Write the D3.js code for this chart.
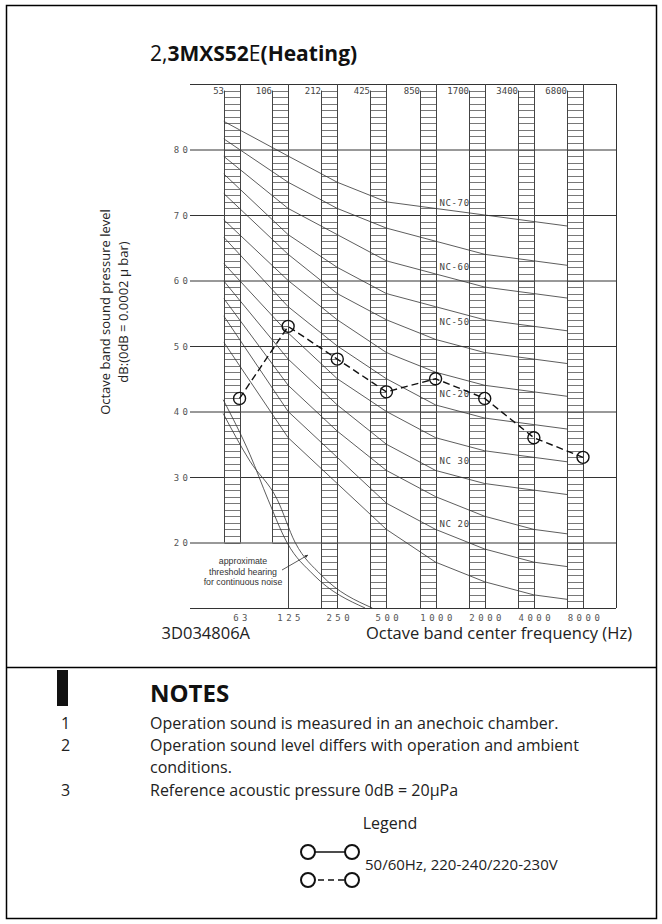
<!DOCTYPE html>
<html>
<head>
<meta charset="utf-8">
<script src="https://cdn.jsdelivr.net/npm/d3@7/dist/d3.min.js"></script>
<style>
  body { margin: 0; background: #fff; }
  svg { display: block; }
</style>
</head>
<body>
<svg id="chart" width="662" height="924"></svg>
<script>
// octave band centre frequencies (Hz) and labels
var bands = [63, 125, 250, 500, 1000, 2000, 4000, 8000];
var bandLabels = ["63", "125", "250", "500", "1000", "2000", "4000", "8000"];
var edgeLabels = ["53", "106", "212", "425", "850", "1700", "3400", "6800"];
var yTicks = [20, 30, 40, 50, 60, 70, 80];

// measured sound level, heating (dB)
var soundLevel = [42, 53, 48, 43, 45, 42, 36, 33];

// NC curves (dB per band)
var nc70 = [83, 79, 75, 72, 71, 70, 69, 68];
var nc65 = [80, 75, 71, 68, 66, 64, 63, 62];
var nc60 = [77, 71, 67, 63, 61, 59, 58, 57];
var nc55 = [74, 67, 62, 58, 56, 54, 53, 52];
var nc50 = [71, 64, 58, 54, 51, 49, 48, 47];
var nc45 = [67, 60, 54, 49, 46, 44, 43, 42];
var nc40 = [64, 56, 50, 45, 41, 39, 38, 37];
var nc35 = [60, 52, 45, 40, 36, 34, 33, 32];
var nc30 = [57, 48, 41, 35, 31, 29, 28, 27];
var nc25 = [54, 44, 37, 31, 27, 24, 22, 21];
var nc20 = [51, 40, 33, 26, 22, 19, 17, 16];
var nc15 = [47, 36, 29, 22, 17, 14, 12, 11];
var ncCurves = [nc70, nc65, nc60, nc55, nc50, nc45, nc40, nc35, nc30, nc25, nc20, nc15];

// curve labels as printed on the chart, and the level they sit at
var ncLabels = ["NC-70", "NC-60", "NC-50", "NC-20", "NC 30", "NC 20"];
var ncLabelLevels = [71.9, 62.0, 53.6, 42.6, 32.4, 22.8];

// approximate threshold of hearing [Hz, dB]
var thresholdA = [[50, 41.8], [73, 33.4], [94, 26.6], [123, 20], [180, 15], [370, 10]];
var thresholdB = [[50, 39.7], [73, 32.4], [107, 26.6], [138, 20], [200, 15], [410, 10]];

var noteNums = ["1", "2", "", "3"];
var noteLines = [
  "Operation sound is measured in an anechoic chamber.",
  "Operation sound level differs with operation and ambient",
  "conditions.",
  "Reference acoustic pressure 0dB = 20\u03bcPa"
];

var svg = d3.select("#chart");
var ink = "#333";
var barW = 16;
var cad = "DejaVu Sans Mono";
var sans = "Open Sans";

var x = d3.scaleLog().base(2).domain([62.5, 8000]).range([239, 583]);
var y = d3.scaleLinear().domain([10, 90]).range([608, 84]);
var plotL = 190, plotR = 616;

// page frame
svg.append("rect")
  .attr("x", 6.5).attr("y", 5.5).attr("width", 650).attr("height", 913)
  .attr("fill", "none").attr("stroke", "#000").attr("stroke-width", 1.5);

// title
var title = svg.append("text")
  .attr("x", 150).attr("y", 61)
  .attr("font-family", sans).attr("font-size", 21).attr("fill", "#111");
title.append("tspan").text("2,");
title.append("tspan").attr("font-weight", "bold").text("3MXS52");
title.append("tspan").text("E");
title.append("tspan").attr("font-weight", "bold").text("(Heating)");

// ---- grid ----
var g = svg.append("g");

g.selectAll(".hgrid")
  .data([10].concat(yTicks).concat([90]))
  .enter().append("line")
  .attr("x1", plotL).attr("x2", plotR)
  .attr("y1", function(d){ return y(d) + 0.5; })
  .attr("y2", function(d){ return y(d) + 0.5; })
  .attr("stroke", ink).attr("stroke-width", 1);

g.append("line")
  .attr("x1", plotR + 0.5).attr("x2", plotR + 0.5)
  .attr("y1", y(90)).attr("y2", y(10))
  .attr("stroke", ink);

g.selectAll(".ytick")
  .data(yTicks)
  .enter().append("text")
  .attr("x", 188 + 3.5).attr("y", function(d){ return y(d) + 3.5; })
  .attr("text-anchor", "end")
  .attr("font-family", cad).attr("font-size", 9)
  .attr("letter-spacing", 3.5).attr("fill", "#555")
  .text(function(d){ return d; });

// ---- hatched band columns ----
bands.forEach(function(f, i){
  var right = Math.round(x(f)) + 0.5;
  var left = right - barW;
  var low = i < 2 ? 20 : 10;
  var top = y(89);
  var levels = d3.range(low + (low === 10 ? 1 : 0), 90);
  var col = g.append("g");
  col.selectAll("line.h")
    .data(levels)
    .enter().append("line")
    .attr("x1", left).attr("x2", right)
    .attr("y1", function(d){ return Math.round(y(d)) + 0.5; })
    .attr("y2", function(d){ return Math.round(y(d)) + 0.5; })
    .attr("stroke", "#555").attr("stroke-width", 0.8);
  col.append("line")
    .attr("x1", left).attr("x2", left).attr("y1", top).attr("y2", y(low))
    .attr("stroke", "#444");
  // right edge runs up to the top line; for 125 Hz it carries on to the bottom
  col.append("line")
    .attr("x1", right).attr("x2", right).attr("y1", y(90))
    .attr("y2", i === 1 ? y(10) : y(low))
    .attr("stroke", "#444");
  // edge frequency label at the top
  col.append("text")
    .attr("x", left - 0.5).attr("y", top + 3)
    .attr("text-anchor", "end")
    .attr("font-family", cad).attr("font-size", 9)
    .attr("fill", "#444")
    .text(edgeLabels[i]);
  // centre frequency label at the bottom
  g.append("text")
    .attr("x", x(f) + 2.5).attr("y", y(10) + 12.5)
    .attr("text-anchor", "middle")
    .attr("font-family", cad).attr("font-size", 9)
    .attr("letter-spacing", 3.5).attr("fill", "#555")
    .text(bandLabels[i]);
});

// ---- NC curves ----
svg.append("clipPath").attr("id", "ncClip")
  .append("rect")
  .attr("x", x(63) - barW).attr("y", y(90))
  .attr("width", (x(8000) - barW) - (x(63) - barW)).attr("height", y(10) - y(90));

var ncLine = d3.line();
var curves = g.append("g").attr("clip-path", "url(#ncClip)");
ncCurves.forEach(function(vals){
  var pts = bands.map(function(f, i){ return [x(f), y(vals[i])]; });
  // extend the first segment back to the left edge of the 63 Hz column
  var s = (pts[1][1] - pts[0][1]) / (pts[1][0] - pts[0][0]);
  pts.unshift([pts[0][0] - barW, pts[0][1] - s * barW]);
  curves.append("path")
    .attr("d", ncLine(pts))
    .attr("fill", "none").attr("stroke", "#333").attr("stroke-width", 0.8);
});

g.selectAll(".nclab")
  .data(ncLabels)
  .enter().append("text")
  .attr("x", x(1000) + 4)
  .attr("y", function(d, i){ return y(ncLabelLevels[i]) + 3; })
  .attr("font-family", cad).attr("font-size", 9)
  .attr("letter-spacing", 0.6).attr("fill", "#444")
  .text(function(d){ return d; });

// ---- threshold of hearing ----
var thrLine = d3.line()
  .x(function(d){ return x(d[0]); })
  .y(function(d){ return y(d[1]); })
  .curve(d3.curveMonotoneX);
[thresholdA, thresholdB].forEach(function(t){
  g.append("path").attr("d", thrLine(t))
    .attr("fill", "none").attr("stroke", "#333").attr("stroke-width", 0.8);
});

var thrText = g.append("text")
  .attr("font-family", "Liberation Sans Narrow, Liberation Sans").attr("font-size", 8.8)
  .attr("text-anchor", "middle").attr("fill", "#333");
["approximate", "threshold hearing", "for continuous noise"].forEach(function(t, i){
  thrText.append("tspan").attr("x", 243).attr("y", 564 + i * 10.5).text(t);
});

svg.append("defs").append("marker")
  .attr("id", "arrow").attr("viewBox", "0 0 10 10")
  .attr("refX", 10).attr("refY", 5)
  .attr("markerWidth", 5).attr("markerHeight", 4).attr("orient", "auto")
  .append("path").attr("d", "M0,0L10,5L0,10z").attr("fill", "#333");
g.append("line")
  .attr("x1", 282).attr("y1", 570).attr("x2", 308).attr("y2", 555)
  .attr("stroke", "#333").attr("stroke-width", 0.8)
  .attr("marker-end", "url(#arrow)");

// ---- measured data ----
var dataLine = d3.line()
  .x(function(d, i){ return x(bands[i]); })
  .y(function(d){ return y(d); });
g.append("path").attr("d", dataLine(soundLevel))
  .attr("fill", "none").attr("stroke", "#111").attr("stroke-width", 1.4)
  .attr("stroke-dasharray", "7,4");
g.selectAll(".pt")
  .data(soundLevel)
  .enter().append("circle")
  .attr("cx", function(d, i){ return x(bands[i]); })
  .attr("cy", function(d){ return y(d); })
  .attr("r", 6)
  .attr("fill", "none").attr("stroke", "#111").attr("stroke-width", 1.4);

// ---- axis titles ----
var yTitle = svg.append("text")
  .attr("transform", "translate(110,312) rotate(-90)")
  .attr("text-anchor", "middle")
  .attr("font-family", sans).attr("font-size", 13).attr("fill", "#222");
yTitle.append("tspan").attr("x", 0).attr("y", 0).text("Octave band sound pressure level");
yTitle.append("tspan").attr("x", 0).attr("y", 18).text("dB:(0dB = 0.0002 \u03bc bar)");

svg.append("text")
  .attr("x", 250).attr("y", 639).attr("text-anchor", "end")
  .attr("font-family", sans).attr("font-size", 16.5).attr("fill", "#222")
  .text("3D034806A");
svg.append("text")
  .attr("x", 632).attr("y", 639).attr("text-anchor", "end")
  .attr("font-family", sans).attr("font-size", 16.5).attr("fill", "#222")
  .text("Octave band center frequency (Hz)");

// ---- notes ----
svg.append("line")
  .attr("x1", 6.5).attr("x2", 656.5).attr("y1", 667.5).attr("y2", 667.5)
  .attr("stroke", "#000").attr("stroke-width", 1.5);
svg.append("rect")
  .attr("x", 57).attr("y", 670).attr("width", 11).attr("height", 36)
  .attr("fill", "#111");
svg.append("text")
  .attr("x", 150).attr("y", 702)
  .attr("font-family", sans).attr("font-size", 24).attr("font-weight", "bold")
  .attr("fill", "#111").text("NOTES");

var noteY = [729, 751, 773, 796];
noteLines.forEach(function(t, i){
  svg.append("text").attr("x", 61).attr("y", noteY[i])
    .attr("font-family", sans).attr("font-size", 16).attr("fill", "#222")
    .text(noteNums[i]);
  svg.append("text").attr("x", 150).attr("y", noteY[i])
    .attr("font-family", sans).attr("font-size", 16).attr("fill", "#222")
    .text(t);
});

// ---- legend ----
svg.append("text")
  .attr("x", 390).attr("y", 829).attr("text-anchor", "middle")
  .attr("font-family", sans).attr("font-size", 16).attr("fill", "#222")
  .text("Legend");
[0, 1].forEach(function(k){
  var ly = 852 + k * 28;
  svg.append("line")
    .attr("x1", 308).attr("x2", 352).attr("y1", ly).attr("y2", ly)
    .attr("stroke", "#111").attr("stroke-width", 1.6)
    .attr("stroke-dasharray", k ? "6,4" : null);
  [308, 352].forEach(function(cx){
    svg.append("circle").attr("cx", cx).attr("cy", ly).attr("r", 7)
      .attr("fill", "#fff").attr("stroke", "#111").attr("stroke-width", 2);
  });
});
svg.append("text")
  .attr("x", 365).attr("y", 870)
  .attr("font-family", sans).attr("font-size", 15).attr("fill", "#222")
  .text("50/60Hz, 220-240/220-230V");
</script>
</body>
</html>
